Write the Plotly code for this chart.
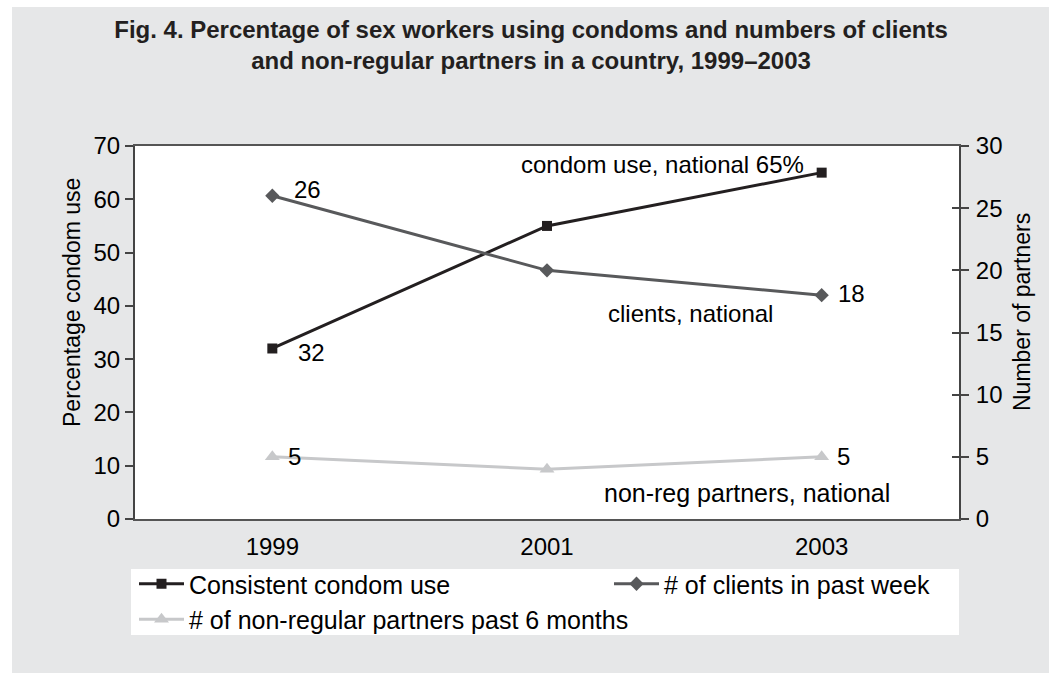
import plotly.graph_objects as go

# ---- data ----
years = ["1999", "2001", "2003"]
condom_use = [32, 55, 65]          # % (left axis)
clients = [26, 20, 18]             # clients in past week (right axis)
nonreg = [5, 4, 5]                 # non-regular partners past 6 months (right axis)

series_names = ["Consistent condom use", "# of clients in past week",
                "# of non-regular partners past 6 months"]
left_ticks = [0, 10, 20, 30, 40, 50, 60, 70]
right_ticks = [0, 5, 10, 15, 20, 25, 30]

title_text = ("Fig. 4. Percentage of sex workers using condoms and numbers of clients<br>"
              "and non-regular partners in a country, 1999–2003")

# ---- layout geometry ----
W, H = 1049, 673
ML, MR, MT, MB = 135, 90, 146, 154
PW, PH = W - ML - MR, H - MT - MB


def px_x(p):
    return (p - ML) / PW


def px_y(p):
    return (H - MB - p) / PH


FONT = "Liberation Sans, Arial, sans-serif"
C_CONDOM = "#231f20"
C_CLIENTS = "#58595b"
C_NONREG = "#c7c8ca"
BG = "#e6e7e8"
AX = "#444444"

first, last = 0, len(years) - 1   # category positions of first / last year

fig = go.Figure()
fig.add_trace(go.Scatter(x=years, y=condom_use, name=series_names[0], mode="lines+markers",
                         line=dict(color=C_CONDOM, width=3),
                         marker=dict(symbol="square", size=10, color=C_CONDOM),
                         yaxis="y"))
fig.add_trace(go.Scatter(x=years, y=clients, name=series_names[1], mode="lines+markers",
                         line=dict(color=C_CLIENTS, width=3),
                         marker=dict(symbol="diamond", size=11, color=C_CLIENTS),
                         yaxis="y2"))
fig.add_trace(go.Scatter(x=years, y=nonreg, name=series_names[2], mode="lines+markers",
                         line=dict(color=C_NONREG, width=3),
                         marker=dict(symbol="triangle-up", size=13, color=C_NONREG),
                         yaxis="y2"))
# empty trace so the inner tick marks of the right axis get drawn
fig.add_trace(go.Scatter(x=[], y=[], yaxis="y3", showlegend=False, hoverinfo="skip"))

ann_font = dict(family=FONT, size=24, color="#000000")
annotations = [
    dict(x=first, y=clients[first], xref="x", yref="y2", text=str(clients[first]),
         xanchor="left", yanchor="middle", xshift=20, yshift=6, showarrow=False, font=ann_font),
    dict(x=first, y=condom_use[first], xref="x", yref="y", text=str(condom_use[first]),
         xanchor="left", yanchor="middle", xshift=24, yshift=-4, showarrow=False, font=ann_font),
    dict(x=first, y=nonreg[first], xref="x", yref="y2", text=str(nonreg[first]),
         xanchor="left", yanchor="middle", xshift=14, yshift=0, showarrow=False, font=ann_font),
    dict(x=last, y=clients[last], xref="x", yref="y2", text=str(clients[last]),
         xanchor="left", yanchor="middle", xshift=14, yshift=2, showarrow=False, font=ann_font),
    dict(x=last, y=nonreg[last], xref="x", yref="y2", text=str(nonreg[last]),
         xanchor="left", yanchor="middle", xshift=13, yshift=0, showarrow=False, font=ann_font),
    dict(x=last, y=condom_use[last], xref="x", yref="y",
         text="condom use, national " + str(condom_use[last]) + "%",
         xanchor="right", yanchor="middle", xshift=-16, yshift=8, showarrow=False, font=ann_font),
    dict(x=last, y=clients[last], xref="x", yref="y2", text="clients, national",
         xanchor="right", yanchor="middle", xshift=-47, yshift=-18, showarrow=False, font=ann_font),
    dict(x=last, y=nonreg[last], xref="x", yref="y2", text="non-reg partners, national",
         xanchor="right", yanchor="middle", xshift=70, yshift=-36, showarrow=False,
         font=dict(family=FONT, size=25, color="#000000")),
    # axis titles
    dict(x=px_x(72), y=px_y(303), xref="paper", yref="paper", text="Percentage condom use",
         textangle=-90, showarrow=False, xanchor="center", yanchor="middle",
         font=dict(family=FONT, size=23, color="#000000")),
    dict(x=px_x(1022), y=px_y(312), xref="paper", yref="paper", text="Number of partners",
         textangle=-90, showarrow=False, xanchor="center", yanchor="middle",
         font=dict(family=FONT, size=23, color="#000000")),
]

shapes = [
    # white strips at the left and top edges of the picture
    dict(type="rect", xref="paper", yref="paper", x0=px_x(-5), x1=px_x(12),
         y0=px_y(700), y1=px_y(-5), fillcolor="#ffffff", line=dict(width=0), layer="below"),
    dict(type="rect", xref="paper", yref="paper", x0=px_x(-5), x1=px_x(1060),
         y0=px_y(7), y1=px_y(-5), fillcolor="#ffffff", line=dict(width=0), layer="below"),
    # white legend panel
    dict(type="rect", xref="paper", yref="paper", x0=px_x(131), x1=px_x(959),
         y0=px_y(635), y1=px_y(569), fillcolor="#ffffff", line=dict(width=0), layer="below"),
]

fig.update_layout(
    width=W, height=H,
    margin=dict(l=ML, r=MR, t=MT, b=MB, autoexpand=False),
    paper_bgcolor=BG,
    plot_bgcolor="#ffffff",
    font=dict(family=FONT, size=24, color="#000000"),
    title=dict(text=title_text, x=531 / W, xref="container", xanchor="center",
               y=1 - 38 / H, yref="container", yanchor="middle",
               font=dict(family=FONT, size=24, color="#231f20", weight="bold")),
    xaxis=dict(type="category", range=[-0.5, 2.5], showgrid=False, ticks="",
               showline=True, linecolor="#555555", linewidth=2, mirror=True,
               ticklabelstandoff=5, tickfont=dict(size=24)),
    yaxis=dict(range=[0, 70], tickvals=left_ticks, showgrid=False, zeroline=False,
               ticks="outside", ticklen=8, tickwidth=2, tickcolor=AX,
               showline=True, linecolor=AX, linewidth=2,
               tickfont=dict(size=24)),
    yaxis2=dict(range=[0, 30], tickvals=right_ticks, overlaying="y", side="right",
                showgrid=False, zeroline=False,
                ticks="outside", ticklen=8, tickwidth=2, tickcolor=AX,
                showline=True, linecolor=AX, linewidth=2,
                tickfont=dict(size=24), ticklabelstandoff=2),
    yaxis3=dict(range=[0, 30], tickvals=right_ticks, overlaying="y", side="right",
                anchor="x", showgrid=False, zeroline=False, showticklabels=False,
                ticks="inside", ticklen=7, tickwidth=2, tickcolor=AX,
                showline=False),
    showlegend=True,
    legend=dict(orientation="h", x=px_x(134), y=px_y(561), xanchor="left", yanchor="top",
                bgcolor="rgba(0,0,0,0)", entrywidth=415, entrywidthmode="pixels",
                font=dict(family=FONT, size=25, color="#000000"),
                itemwidth=45, tracegroupgap=0, traceorder="normal"),
    annotations=annotations,
    shapes=shapes,
)

fig.write_html("out.html", config={"displayModeBar": False},
               post_script="document.body.style.margin='0';")
